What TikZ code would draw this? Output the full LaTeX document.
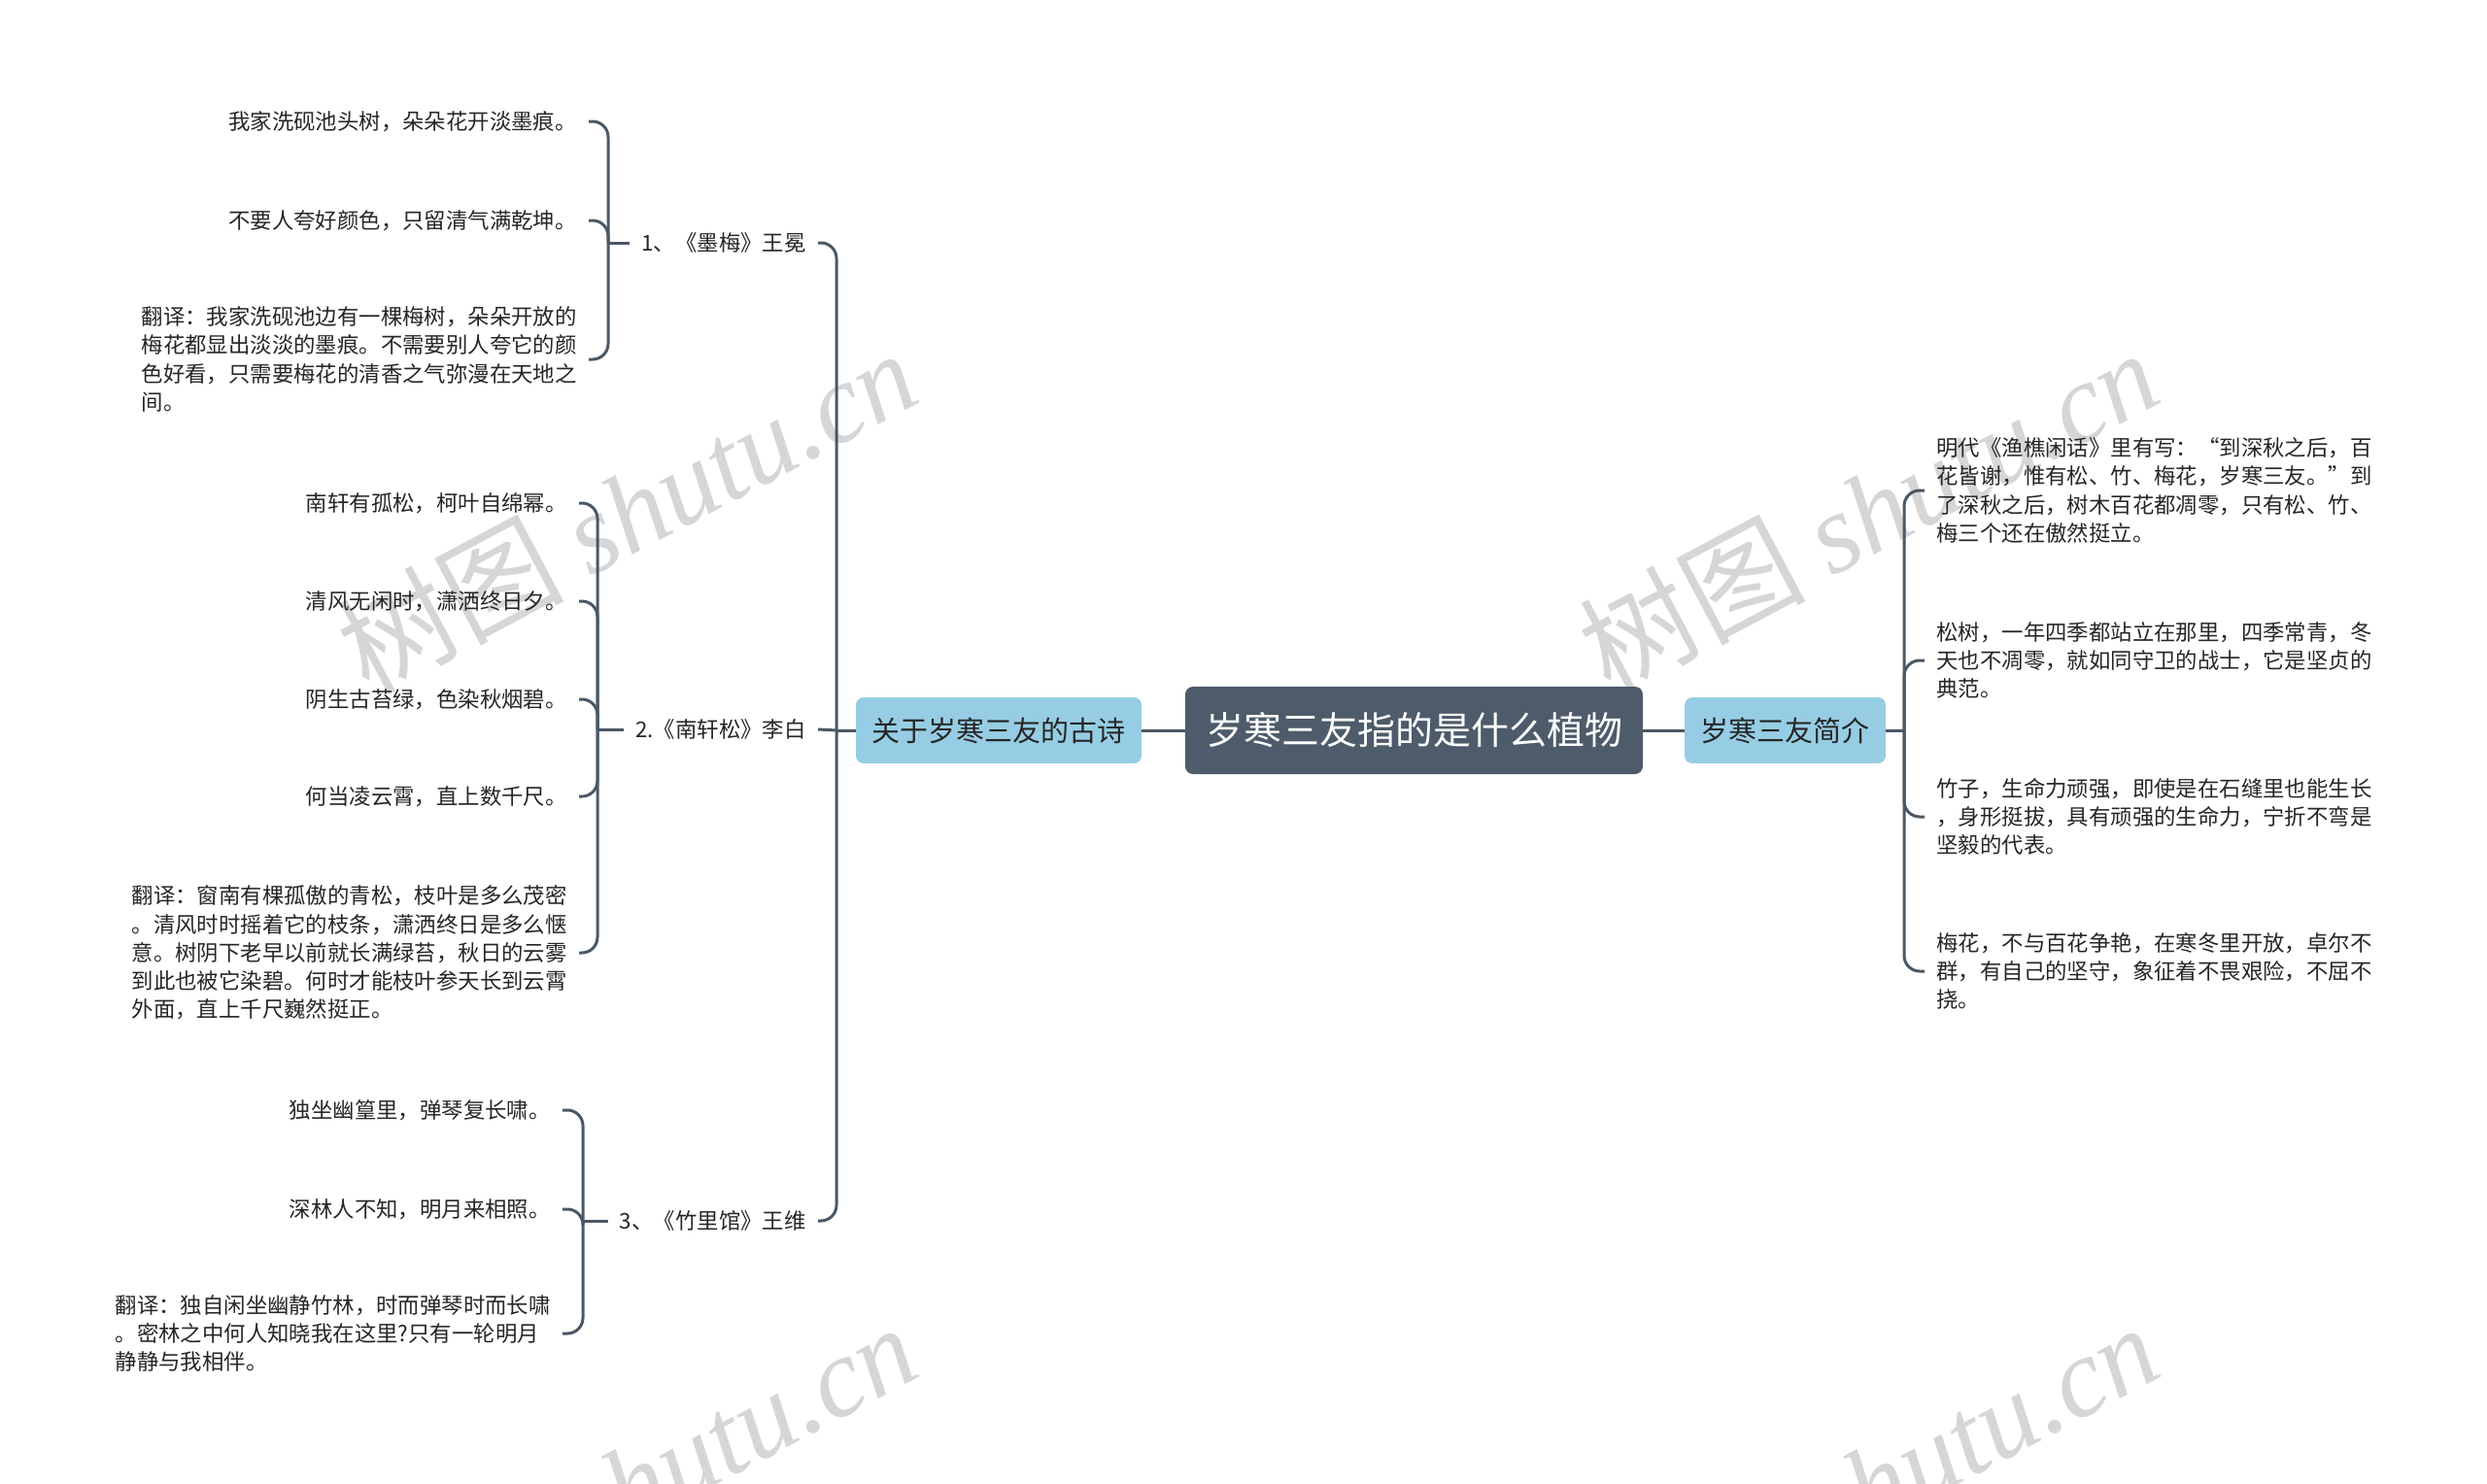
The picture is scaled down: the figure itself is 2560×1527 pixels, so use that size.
\documentclass[tikz,border=0pt]{standalone}
\usepackage{fontspec}
\setmainfont{Noto Sans CJK SC}
\newfontfamily\wmlatin{Liberation Serif}
\usetikzlibrary{positioning}
\definecolor{linec}{HTML}{4A5866}
\definecolor{rootc}{HTML}{4D5B6A}
\definecolor{bluec}{HTML}{96CDE4}
\definecolor{txtc}{HTML}{262626}
\definecolor{wmc}{HTML}{D6D6D6}
\begin{document}
\begin{tikzpicture}[x=0.5pt,y=-0.5pt,
  conn/.style={draw=linec,line width=1.5pt},
  curvy/.style={conn,rounded corners=8pt},
  leaf/.style={inner xsep=6pt,inner ysep=0pt,text=txtc,font=\fontsize{11.2pt}{14.6pt}\selectfont},
  leafL/.style={leaf,anchor=east,align=right},
  para/.style={leaf,anchor=east,align=left},
  leafR/.style={leaf,anchor=west,align=left},
  lab/.style={leaf,anchor=east},
  root/.style={fill=rootc,rounded corners=4pt,text=white,inner sep=0pt,minimum width=235.5pt,minimum height=45pt,font=\fontsize{19.5pt}{22pt}\selectfont},
  topic/.style={fill=bluec,rounded corners=4pt,text=txtc,inner sep=0pt,minimum height=34pt,font=\fontsize{14.5pt}{17pt}\selectfont},
  wm/.style={rotate=28,text=wmc,inner sep=0pt,font=\fontsize{58pt}{62pt}\selectfont}
]
\fill[white] (0,0) rectangle (2560,1527);
\useasboundingbox (0,0) rectangle (2560,1527);

% watermarks
\node[wm] (wm1) at (645,525) {树图 {\wmlatin\itshape shutu.cn}};
\node[wm] (wm2) at (1923,525) {树图 {\wmlatin\itshape shutu.cn}};
\node[wm] (wm3) at (645,1528) {树图 {\wmlatin\itshape shutu.cn}};
\node[wm] (wm4) at (1923,1528) {树图 {\wmlatin\itshape shutu.cn}};

% central nodes
\node[root] (root) at (1455.5,752) {岁寒三友指的是什么植物};
\node[topic,minimum width=147pt] (lb) at (1028,752) {关于岁寒三友的古诗};
\node[topic,minimum width=103.5pt] (rbx) at (1837.5,752) {岁寒三友简介};

% level 2 labels
\node[lab] (l1) at (842,250) {1、《墨梅》王冕};
\node[lab] (l2) at (842,751) {2.《南轩松》李白};
\node[lab] (l3) at (842,1257) {3、《竹里馆》王维};

% section 1 leaves
\node[leafL] (a1) at (606,125) {我家洗砚池头树，朵朵花开淡墨痕。};
\node[leafL] (a2) at (606,227) {不要人夸好颜色，只留清气满乾坤。};
\node[para] (a3) at (606,370) {翻译：我家洗砚池边有一棵梅树，朵朵开放的\\梅花都显出淡淡的墨痕。不需要别人夸它的颜\\色好看，只需要梅花的清香之气弥漫在天地之\\间。};

% section 2 leaves
\node[leafL] (b1) at (596,518) {南轩有孤松，柯叶自绵幂。};
\node[leafL] (b2) at (596,619) {清风无闲时，潇洒终日夕。};
\node[leafL] (b3) at (596,720) {阴生古苔绿，色染秋烟碧。};
\node[leafL] (b4) at (596,820) {何当凌云霄，直上数千尺。};
\node[para] (b5) at (596,981) {翻译：窗南有棵孤傲的青松，枝叶是多么茂密\\。清风时时摇着它的枝条，潇洒终日是多么惬\\意。树阴下老早以前就长满绿苔，秋日的云雾\\到此也被它染碧。何时才能枝叶参天长到云霄\\外面，直上千尺巍然挺正。};

% section 3 leaves
\node[leafL] (c1) at (579,1143) {独坐幽篁里，弹琴复长啸。};
\node[leafL] (c2) at (579,1245) {深林人不知，明月来相照。};
\node[para] (c3) at (579,1373) {翻译：独自闲坐幽静竹林，时而弹琴时而长啸\\。密林之中何人知晓我在这里?只有一轮明月\\静静与我相伴。};

% right leaves
\node[leafR] (r1) at (1981,505) {明代《渔樵闲话》里有写：“到深秋之后，百\\花皆谢，惟有松、竹、梅花，岁寒三友。”到\\了深秋之后，树木百花都凋零，只有松、竹、\\梅三个还在傲然挺立。};
\node[leafR] (r2) at (1981,680) {松树，一年四季都站立在那里，四季常青，冬\\天也不凋零，就如同守卫的战士，它是坚贞的\\典范。};
\node[leafR] (r3) at (1981,841) {竹子，生命力顽强，即使是在石缝里也能生长\\，身形挺拔，具有顽强的生命力，宁折不弯是\\坚毅的代表。};
\node[leafR] (r4) at (1981,1000) {梅花，不与百花争艳，在寒冬里开放，卓尔不\\群，有自己的坚守，象征着不畏艰险，不屈不\\挠。};

% junction coordinates
\coordinate (t) at (861,752);
\coordinate (rb) at (1960,752);
\coordinate (s1) at (626,250);
\coordinate (s2) at (615,751);
\coordinate (s3) at (600,1257);

% connectors
\draw[conn] (root.west) -- (lb.east);
\draw[conn] (root.east) -- (rbx.west);
\draw[conn] (lb.west) -- (t);
\draw[curvy] (t) |- (l1.east);
\draw[conn] (t) -- (l2.east);
\draw[curvy] (t) |- (l3.east);

\draw[conn] (rbx.east) -- (rb);
\draw[curvy] (rb) |- (r1.west);
\draw[curvy] (rb) |- (r2.west);
\draw[curvy] (rb) |- (r3.west);
\draw[curvy] (rb) |- (r4.west);

\draw[conn] (l1.west) -- (s1);
\draw[curvy] (s1) |- (a1.east);
\draw[curvy] (s1) |- (a2.east);
\draw[curvy] (s1) |- (a3.east);

\draw[conn] (l2.west) -- (s2);
\draw[curvy] (s2) |- (b1.east);
\draw[curvy] (s2) |- (b2.east);
\draw[curvy] (s2) |- (b3.east);
\draw[curvy] (s2) |- (b4.east);
\draw[curvy] (s2) |- (b5.east);

\draw[conn] (l3.west) -- (s3);
\draw[curvy] (s3) |- (c1.east);
\draw[curvy] (s3) |- (c2.east);
\draw[curvy] (s3) |- (c3.east);
\end{tikzpicture}
\end{document}
